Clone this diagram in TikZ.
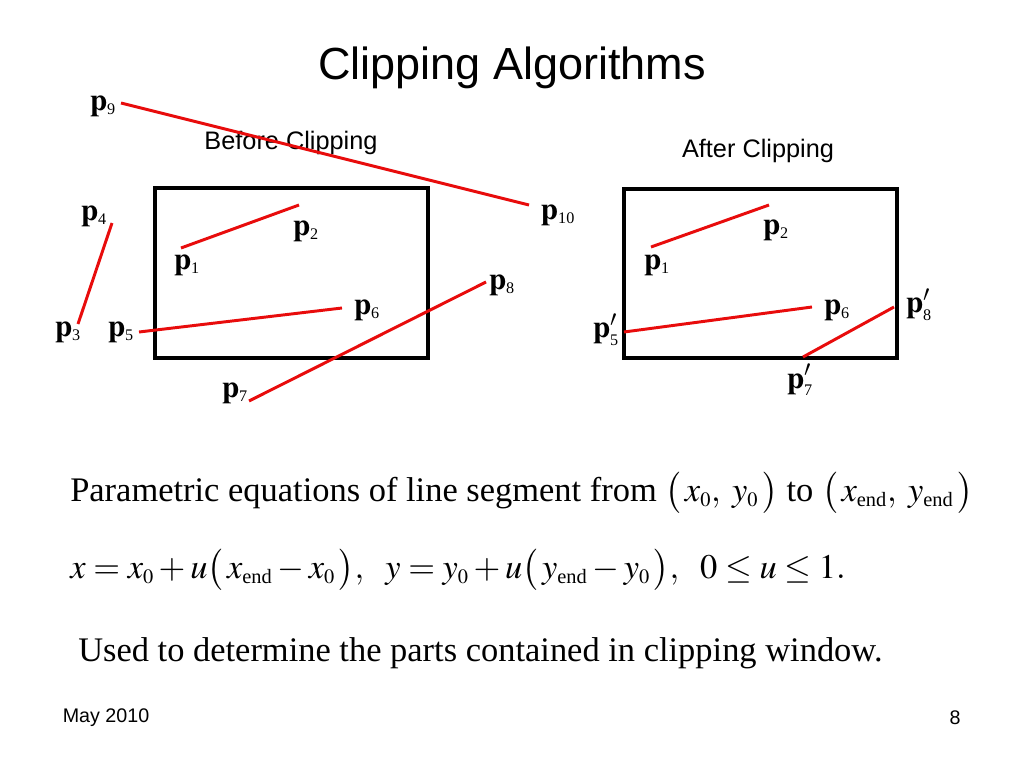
\documentclass[tikz,border=0pt]{standalone}
\usepackage{amsmath}
\usepackage{mathptmx}
\usepackage{fontspec}
\setmainfont{Liberation Serif}
\newfontfamily\sansf{Liberation Sans}
\usetikzlibrary{positioning}
\DeclareMathSizes{24.5}{24.5}{14.5}{10}
\definecolor{clipred}{RGB}{232,12,12}
\tikzset{
  win/.style={draw=black, line width=2.2pt},
  seg/.style={draw=clipred, line width=2.1pt},
  plbl/.style={inner sep=0pt, font=\fontsize{22}{26}\selectfont},
  wintitle/.style={font=\sansf\fontsize{18}{21}\selectfont},
  body/.style={inner sep=0pt, anchor=west, font=\fontsize{24.5}{29}\selectfont}
}
\newcommand{\ptlbl}[1]{$\mathbf{p}_{\mbox{\fontsize{11.5}{13}\selectfont#1}}$}
\newcommand{\ptlblp}[1]{$\mathbf{p}'_{\mbox{\fontsize{11.5}{13}\selectfont#1}}$}

\begin{document}
\begin{tikzpicture}[x=0.025cm, y=-0.025cm]
  \useasboundingbox[fill=white] (0,0) rectangle (1024,768);

  % title
  \node[font=\sansf\fontsize{32}{38}\selectfont] (title) at (512,68) {Clipping Algorithms};
  \node[wintitle] (before) at (291,143) {Before Clipping};
  \node[wintitle] (after) at (758,151) {After Clipping};

  % windows
  \draw[win] (155,188) rectangle (428,358);
  \draw[win] (624,189) rectangle (897,358);

  % before clipping: end points
  \coordinate (a1) at (181,248);  \coordinate (a2) at (299,205);
  \coordinate (a3) at (78,324);   \coordinate (a4) at (112,223);
  \coordinate (a5) at (139,332);  \coordinate (a6) at (342,308);
  \coordinate (a7) at (249,401);  \coordinate (a8) at (486,282);
  \coordinate (a9) at (121,103);  \coordinate (a10) at (529,205);
  \draw[seg] (a1) -- (a2);
  \draw[seg] (a3) -- (a4);
  \draw[seg] (a5) -- (a6);
  \draw[seg] (a7) -- (a8);
  \draw[seg] (a9) -- (a10);

  \node[plbl] (l1) at (187,265) {\ptlbl{1}};
  \node[plbl] (l2) at (306,231) {\ptlbl{2}};
  \node[plbl] (l3) at (68,332) {\ptlbl{3}};
  \node[plbl] (l4) at (94,216) {\ptlbl{4}};
  \node[plbl] (l5) at (121,332) {\ptlbl{5}};
  \node[plbl] (l6) at (367,310) {\ptlbl{6}};
  \node[plbl] (l7) at (235,393) {\ptlbl{7}};
  \node[plbl] (l8) at (502,285) {\ptlbl{8}};
  \node[plbl] (l9) at (103,106) {\ptlbl{9}};
  \node[plbl] (l10) at (558,215) {\ptlbl{10}};

  % after clipping: end points
  \coordinate (b1) at (651,247);  \coordinate (b2) at (769,205);
  \coordinate (b5) at (624,332);  \coordinate (b6) at (812,307);
  \coordinate (b7) at (803,357);  \coordinate (b8) at (894,307);
  \draw[seg] (b1) -- (b2);
  \draw[seg] (b5) -- (b6);
  \draw[seg] (b7) -- (b8);

  \node[plbl] (m1) at (657,265) {\ptlbl{1}};
  \node[plbl] (m2) at (776,230) {\ptlbl{2}};
  \node[plbl] (m5) at (606,330) {\ptlblp{5}};
  \node[plbl] (m6) at (837,310) {\ptlbl{6}};
  \node[plbl] (m7) at (800,380) {\ptlblp{7}};
  \node[plbl] (m8) at (919,305) {\ptlblp{8}};

  % parametric form
  \node[body] (eq1) at (70,493)
    {Parametric equations of line segment from $\bigl(\,x_0,\; y_0\,\bigr)$ to $\bigl(\,x_{\text{end}},\; y_{\text{end}}\,\bigr)$};
  \node[body] (eq2) at (70,570)
    {$x = x_0 + u\bigl(\,x_{\text{end}} - x_0\,\bigr),\ \ y = y_0 + u\bigl(\,y_{\text{end}} - y_0\,\bigr),\ \ 0 \le u \le 1.$};
  \node[body] (use) at (78,653)
    {Used to determine the parts contained in clipping window.};

  % footer
  \node[font=\sansf\fontsize{14}{17}\selectfont] (date) at (106,718) {May 2010};
  \node[font=\sansf\fontsize{14}{17}\selectfont] (page) at (955,718) {8};
\end{tikzpicture}
\end{document}
